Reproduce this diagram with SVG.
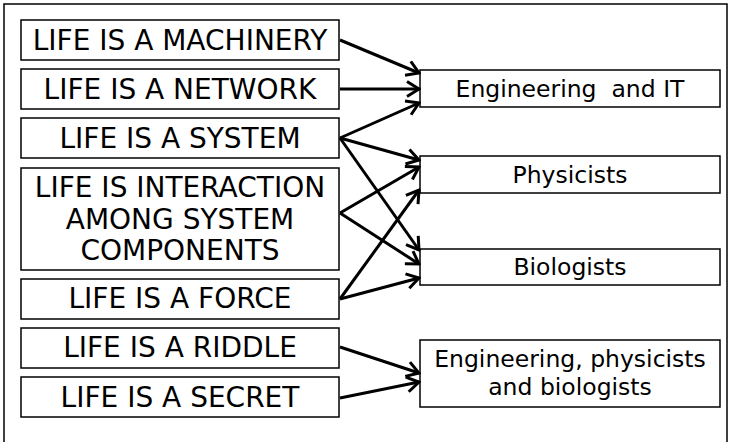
<svg xmlns="http://www.w3.org/2000/svg" width="729" height="442" viewBox="0 0 729 442">
  <style>
    .frame { fill: #fff; stroke: #000; stroke-width: 1.5; }
    .box { fill: #fff; stroke: #000; stroke-width: 1.5; }
    .lt { font-family: "DejaVu Sans", Verdana, sans-serif; font-size: 28px; fill: #000; text-anchor: middle; }
    .rt { font-family: "DejaVu Sans", Verdana, sans-serif; font-size: 23.5px; fill: #000; text-anchor: middle; }
    .arrow { fill: none; stroke: #000; stroke-width: 3; marker-end: url(#head); }
  </style>
  <defs>
    <marker id="head" markerUnits="userSpaceOnUse" markerWidth="16" markerHeight="18" viewBox="0 0 16 18" refX="14" refY="9" orient="auto">
      <path d="M2,1.5 L14,9 L2,16.5" fill="none" stroke="#000" stroke-width="3"/>
    </marker>
  </defs>

  <rect class="frame" x="4" y="4" width="723" height="450"/>

  <!-- source statements -->
  <g id="machinery">
    <rect class="box" x="21" y="20" width="318" height="40"/>
    <text class="lt" x="180" y="50">LIFE IS A MACHINERY</text>
  </g>
  <g id="network">
    <rect class="box" x="21" y="69" width="318" height="40"/>
    <text class="lt" x="180" y="99">LIFE IS A NETWORK</text>
  </g>
  <g id="system">
    <rect class="box" x="21" y="118" width="318" height="40"/>
    <text class="lt" x="180" y="148">LIFE IS A SYSTEM</text>
  </g>
  <g id="interaction">
    <rect class="box" x="21" y="168" width="318" height="102"/>
    <text class="lt" x="180" y="197">LIFE IS INTERACTION</text>
    <text class="lt" x="180" y="229">AMONG SYSTEM</text>
    <text class="lt" x="180" y="260">COMPONENTS</text>
  </g>
  <g id="force">
    <rect class="box" x="21" y="279" width="318" height="40"/>
    <text class="lt" x="180" y="308">LIFE IS A FORCE</text>
  </g>
  <g id="riddle">
    <rect class="box" x="21" y="328" width="318" height="40"/>
    <text class="lt" x="180" y="357">LIFE IS A RIDDLE</text>
  </g>
  <g id="secret">
    <rect class="box" x="21" y="377" width="318" height="40"/>
    <text class="lt" x="180" y="407">LIFE IS A SECRET</text>
  </g>

  <!-- target fields -->
  <g id="engineering">
    <rect class="box" x="420" y="70" width="300" height="37"/>
    <text class="rt" x="570" y="97" xml:space="preserve">Engineering  and IT</text>
  </g>
  <g id="physicists">
    <rect class="box" x="420" y="156" width="300" height="37"/>
    <text class="rt" x="570" y="183">Physicists</text>
  </g>
  <g id="biologists">
    <rect class="box" x="420" y="249" width="300" height="36"/>
    <text class="rt" x="570" y="275">Biologists</text>
  </g>
  <g id="all-fields">
    <rect class="box" x="420" y="340" width="300" height="67"/>
    <text class="rt" x="570" y="367">Engineering, physicists</text>
    <text class="rt" x="570" y="395">and biologists</text>
  </g>

  <!-- connectors -->
  <g id="connectors">
    <line class="arrow" x1="340" y1="40" x2="419" y2="73"/>
    <line class="arrow" x1="340" y1="89" x2="419" y2="89"/>
    <line class="arrow" x1="340" y1="138" x2="419" y2="103"/>
    <line class="arrow" x1="340" y1="138" x2="419" y2="160"/>
    <line class="arrow" x1="340" y1="138" x2="419" y2="250"/>
    <line class="arrow" x1="340" y1="213" x2="419" y2="167"/>
    <line class="arrow" x1="340" y1="213" x2="419" y2="264"/>
    <line class="arrow" x1="340" y1="299" x2="419" y2="190"/>
    <line class="arrow" x1="340" y1="299" x2="419" y2="278"/>
    <line class="arrow" x1="340" y1="347" x2="419" y2="373"/>
    <line class="arrow" x1="340" y1="398" x2="419" y2="382"/>
  </g>
</svg>
